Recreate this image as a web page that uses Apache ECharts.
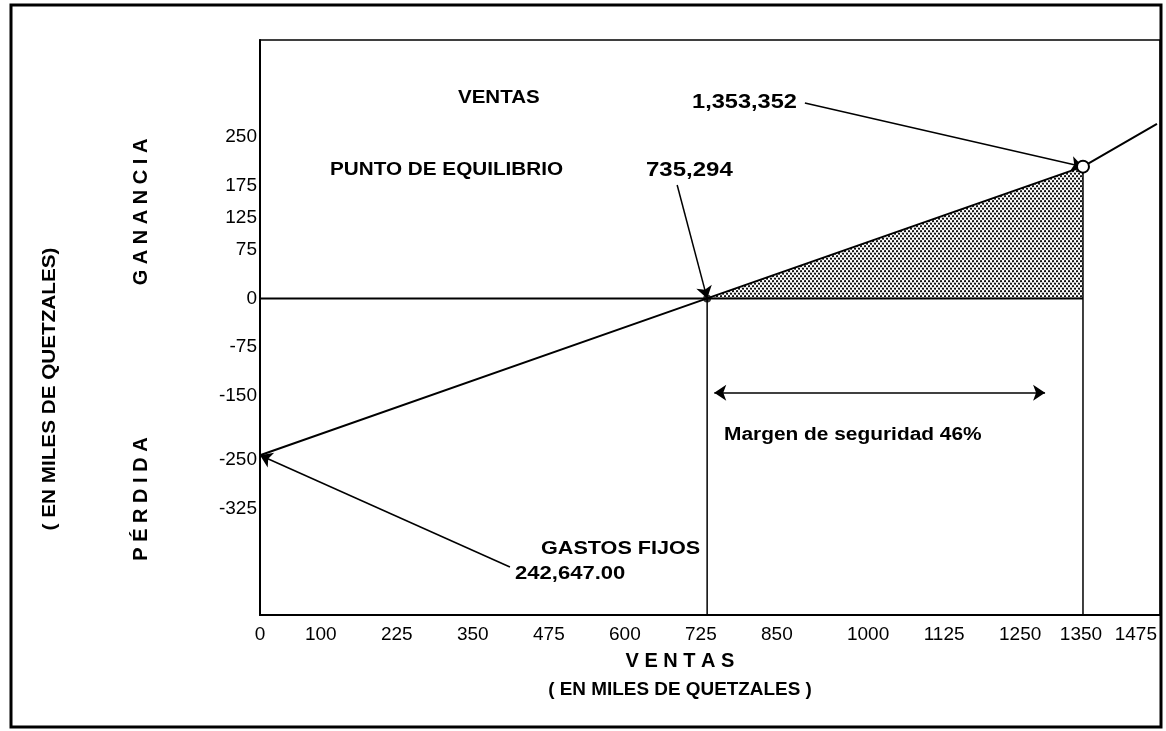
<!DOCTYPE html>
<html>
<head>
<meta charset="utf-8">
<script src="https://cdn.jsdelivr.net/npm/echarts@6/dist/echarts.min.js"></script>
<style>
html, body { margin: 0; padding: 0; background: #fff; }
#main { width: 1166px; height: 731px; }
</style>
</head>
<body>
<div id="main"></div>
<script>
// punto de equilibrio (miles de quetzales)
var ventas = [0, 735.294, 1353.352, 1475];
var utilidad = [-242.647, 0, 203.96, 270];
var equilibrio = [735.294, 0];
var ventaActual = [1353.352, 203.96];
var xTicks = [0, 100, 225, 350, 475, 600, 725, 850, 1000, 1125, 1250, 1350, 1475];
var yTicks = [-325, -250, -150, -75, 0, 75, 125, 175, 250];

var X_MIN = 0, X_MAX = 1480, Y_MIN = -490, Y_MAX = 400;
var FONT = 'Arial, "Liberation Sans", sans-serif';

function pairs(xs, ys) {
	var out = [];
	for (var i = 0; i < xs.length; i++) out.push([xs[i], ys[i]]);
	return out;
}

// trama punteada del area de ganancia
function dotPattern() {
	var c = document.createElement('canvas');
	c.width = 4; c.height = 5;
	var ctx = c.getContext('2d');
	ctx.fillStyle = '#111';
	ctx.beginPath(); ctx.arc(1, 1.2, 1.15, 0, Math.PI * 2); ctx.fill();
	ctx.beginPath(); ctx.arc(3, 3.7, 1.15, 0, Math.PI * 2); ctx.fill();
	return c;
}

function txt(x, y, text, size, sx, extra) {
	var el = {
		type: 'text', x: x, y: y, scaleX: sx || 1, z: 100,
		style: {
			text: text, fontSize: size, fontWeight: 'bold', fontFamily: FONT,
			fill: '#000', textVerticalAlign: 'middle'
		}
	};
	if (extra) {
		for (var k in extra) {
			if (k === 'style') { for (var s in extra.style) el.style[s] = extra.style[s]; }
			else el[k] = extra[k];
		}
	}
	return el;
}

var lineBlack = { color: '#000', width: 2 };

var option = {
	animation: false,
	backgroundColor: '#fff',
	grid: {
		left: 260, top: 40, right: 6, bottom: 116,
		show: true, borderColor: '#000', borderWidth: 1.5
	},
	xAxis: {
		type: 'value', min: X_MIN, max: X_MAX,
		axisLine: { show: true, onZero: false, lineStyle: { color: '#000', width: 2 } },
		axisTick: { show: false },
		splitLine: { show: false },
		axisLabel: {
			customValues: xTicks, color: '#000', fontSize: 19, fontFamily: FONT, margin: 10,
			alignMaxLabel: 'right',
			formatter: function (v) { return String(v); }
		}
	},
	yAxis: {
		type: 'value', min: Y_MIN, max: Y_MAX,
		axisLine: { show: true, onZero: false, lineStyle: { color: '#000', width: 2 } },
		axisTick: { show: false },
		splitLine: { show: false },
		axisLabel: {
			customValues: yTicks, color: '#000', fontSize: 19, fontFamily: FONT, margin: 3,
			formatter: function (v) { return String(v); }
		}
	},
	series: [{
		name: 'ganancia',
		type: 'line',
		data: [equilibrio, ventaActual],
		symbol: 'none',
		lineStyle: { width: 0 },
		areaStyle: { color: { image: dotPattern(), repeat: 'repeat' }, opacity: 1 },
		z: 1
	}, {
		name: 'utilidad',
		type: 'line',
		data: pairs(ventas, utilidad),
		symbol: 'none',
		lineStyle: lineBlack,
		z: 3
	}, {
		name: 'cero',
		type: 'line',
		data: [[X_MIN, 0], [ventaActual[0], 0]],
		symbol: 'none',
		lineStyle: lineBlack,
		z: 3,
		markLine: {
			silent: true,
			symbol: ['none', 'arrow'],
			symbolSize: 12,
			label: { show: false },
			lineStyle: { color: '#000', width: 1.5, type: 'solid' },
			data: [
				[{ coord: [896, 302.5] }, { coord: ventaActual }],
				[{ coord: [686, 175.6] }, { coord: equilibrio }],
				[{ coord: [411, -415.7] }, { coord: [ventas[0], utilidad[0]] }],
				[{ coord: [747, -146], symbol: 'arrow' }, { coord: [1291, -146], symbol: 'arrow' }]
			]
		}
	}, {
		name: 'v-equilibrio',
		type: 'line',
		data: [equilibrio, [equilibrio[0], Y_MIN]],
		symbol: 'none',
		lineStyle: { color: '#000', width: 1.5 },
		z: 3
	}, {
		name: 'v-ventas',
		type: 'line',
		data: [ventaActual, [ventaActual[0], Y_MIN]],
		symbol: 'none',
		lineStyle: { color: '#000', width: 1.5 },
		z: 3
	}, {
		name: 'pe',
		type: 'scatter',
		data: [equilibrio],
		symbol: 'circle',
		symbolSize: 8,
		itemStyle: { color: '#000' },
		z: 5
	}, {
		name: 'venta',
		type: 'scatter',
		data: [ventaActual],
		symbol: 'circle',
		symbolSize: 12,
		itemStyle: { color: '#fff', borderColor: '#000', borderWidth: 2, opacity: 1 },
		z: 6
	}],
	graphic: [
		{
			type: 'rect', z: 0, silent: true,
			shape: { x: 11, y: 5, width: 1150, height: 722 },
			style: { fill: 'none', stroke: '#000', lineWidth: 3 }
		},
		txt(458, 98, 'VENTAS', 18, 1.14),
		txt(330, 170, 'PUNTO DE EQUILIBRIO', 18, 1.15),
		txt(646, 170, '735,294', 20, 1.2),
		txt(692, 102, '1,353,352', 20, 1.18),
		txt(724, 435, 'Margen de seguridad 46%', 18, 1.16),
		txt(541, 549, 'GASTOS FIJOS', 18, 1.2),
		txt(515, 574, '242,647.00', 19, 1.16),
		txt(680, 661, 'V E N T A S', 20, 1, { style: { textAlign: 'center' } }),
		txt(680, 690, '( EN MILES DE QUETZALES )', 18, 1.05, { style: { textAlign: 'center' } }),
		txt(50, 389, '( EN MILES DE QUETZALES)', 18, 1.15, { rotation: Math.PI / 2, style: { textAlign: 'center' } }),
		txt(141, 212, 'G A N A N C I A', 20, 1, { rotation: Math.PI / 2, style: { textAlign: 'center' } }),
		txt(141, 499, 'P É R D I D A', 20, 1, { rotation: Math.PI / 2, style: { textAlign: 'center' } })
	]
};

var myChart = echarts.init(document.getElementById('main'));
myChart.setOption(option, true);
</script>
</body>
</html>
